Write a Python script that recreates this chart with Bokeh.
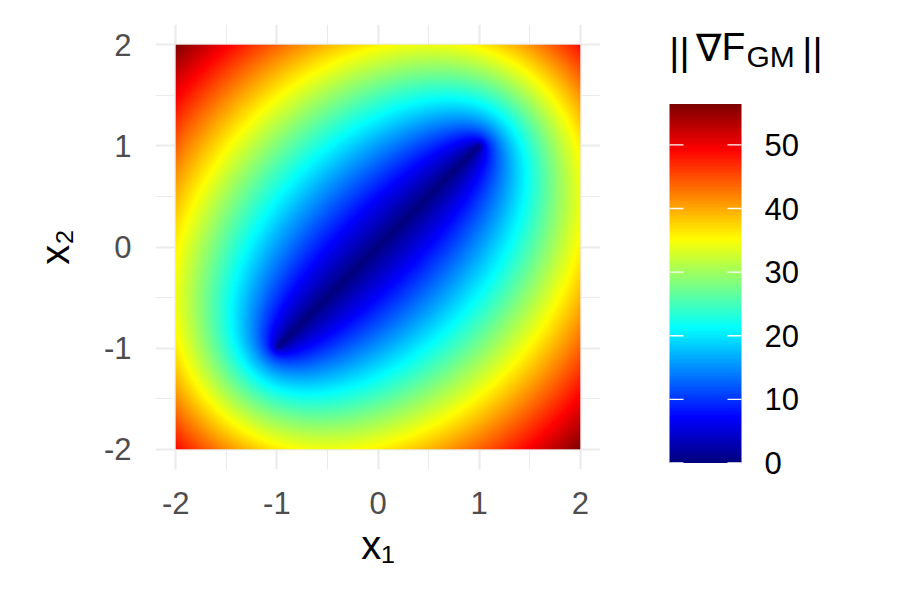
import numpy as np
from bokeh.plotting import figure
from bokeh.layouts import row
from bokeh.models import LinearColorMapper, FixedTicker, Range1d, Label
from bokeh.core.properties import value
from bokeh.embed import file_html
from bokeh.resources import INLINE

# ---------------- data ----------------
x1_limits = [-2.0, 2.0]
x2_limits = [-2.0, 2.0]
# the zero set of the gradient norm is the segment between these two points
anchor_x1 = [-1.0, 1.0]
anchor_x2 = [-1.0, 1.0]
grad_scale = 10.0          # gives the colour-bar maximum of ~56.6 at (-2, 2)
axis_ticks = [-2, -1, 0, 1, 2]
axis_tick_labels = ["-2", "-1", "0", "1", "2"]
axis_minor_ticks = [-1.5, -0.5, 0.5, 1.5]
legend_ticks = [0, 10, 20, 30, 40, 50]
legend_tick_labels = ["0", "10", "20", "30", "40", "50"]
jet_anchors = ["#00007F", "#0000FF", "#007FFF", "#00FFFF", "#7FFF7F",
               "#FFFF00", "#FF7F00", "#FF0000", "#7F0000"]
n_grid = 405

# ---------------- field ----------------
xs = x1_limits[0] + (np.arange(n_grid) + 0.5) * (x1_limits[1] - x1_limits[0]) / n_grid
ys = x2_limits[0] + (np.arange(n_grid) + 0.5) * (x2_limits[1] - x2_limits[0]) / n_grid
X, Y = np.meshgrid(xs, ys)
dxa, dya = X - anchor_x1[0], Y - anchor_x2[0]
dxb, dyb = X - anchor_x1[1], Y - anchor_x2[1]
d1 = np.maximum(np.hypot(dxa, dya), 1e-12)
d2 = np.maximum(np.hypot(dxb, dyb), 1e-12)
gx = dxa / d1 + dxb / d2
gy = dya / d1 + dyb / d2
Z = grad_scale * np.sqrt(d1 * d2) * np.hypot(gx, gy)
zmax = float(Z.max())

# ---------------- palette ----------------
def _rgb(h):
    h = h.lstrip("#")
    return np.array([int(h[i:i + 2], 16) for i in (0, 2, 4)], dtype=float)

anchors_rgb = [_rgb(c) for c in jet_anchors]
palette = []
n_col = 256
for k in range(n_col):
    t = k / (n_col - 1) * (len(anchors_rgb) - 1)
    i = min(int(t), len(anchors_rgb) - 2)
    f = t - i
    c = (1 - f) * anchors_rgb[i] + f * anchors_rgb[i + 1]
    palette.append("#%02x%02x%02x" % tuple(int(round(v)) for v in c))

mapper = LinearColorMapper(palette=palette, low=0, high=zmax)

FONT = "Liberation Sans"
TOP, FRAME = 24, 445

# ---------------- main panel ----------------
span = x1_limits[1] - x1_limits[0]
p = figure(frame_width=FRAME, frame_height=FRAME,
           min_border_left=155, min_border_right=0,
           min_border_top=TOP, min_border_bottom=0,
           x_range=Range1d(x1_limits[0] - 0.05 * span, x1_limits[1] + 0.05 * span),
           y_range=Range1d(x2_limits[0] - 0.05 * span, x2_limits[1] + 0.05 * span),
           output_backend="svg", toolbar_location=None)
p.outline_line_color = None
p.background_fill_color = "white"
p.border_fill_color = "white"

p.image(image=[Z], x=x1_limits[0], y=x2_limits[0],
        dw=x1_limits[1] - x1_limits[0], dh=x2_limits[1] - x2_limits[0],
        color_mapper=mapper)

for axis, grid in ((p.xaxis[0], p.xgrid[0]), (p.yaxis[0], p.ygrid[0])):
    tk = FixedTicker(ticks=axis_ticks, minor_ticks=axis_minor_ticks)
    axis.ticker = tk
    grid.ticker = tk
    axis.major_label_overrides = {t: l for t, l in zip(axis_ticks, axis_tick_labels)}
    axis.axis_line_color = None
    axis.major_tick_line_color = None
    axis.minor_tick_line_color = None
    axis.major_tick_out = 0
    axis.major_tick_in = 0
    axis.major_label_text_font = FONT
    axis.major_label_text_font_size = "31px"
    axis.major_label_text_color = "#4D4D4D"
    axis.axis_label_text_font = FONT
    axis.axis_label_text_font_size = "40px"
    axis.axis_label_text_font_style = "normal"
    axis.axis_label_text_color = "black"
    grid.grid_line_color = "#EBEBEB"
    grid.grid_line_width = 2.2
    grid.minor_grid_line_color = "#EBEBEB"
    grid.minor_grid_line_width = 1.1
p.xaxis.major_label_standoff = 18
p.yaxis.major_label_standoff = 20
p.xaxis.axis_label = "x\u2081"
p.yaxis.axis_label = "x\u2082"
p.xaxis.axis_label_standoff = 6
p.yaxis.axis_label_standoff = 24

# ---------------- colour bar panel ----------------
PANEL_X0 = 600                         # page x of this panel's left edge
FRAME2 = 458                           # frame reaches a little below the main panel
bar_left, bar_width = 669 - PANEL_X0, 72
bar_bottom_px, bar_top_px = 462.5, 103.5   # page pixels of 0 and max
kpx = (bar_bottom_px - bar_top_px) / zmax
frame2_bottom = TOP + FRAME2
y_lo = -(frame2_bottom - bar_bottom_px) / kpx
y_hi = zmax + (bar_top_px - TOP) / kpx

def ydata(page_y):
    return y_lo + (frame2_bottom - page_y) / kpx

p2 = figure(frame_width=300, frame_height=FRAME2,
            min_border_left=0, min_border_right=0,
            min_border_top=TOP, min_border_bottom=0,
            x_range=Range1d(0, 300), y_range=Range1d(y_lo, y_hi),
            x_axis_type=None, y_axis_type=None,
            output_backend="svg", toolbar_location=None)
p2.outline_line_color = None
p2.grid.visible = False
p2.background_fill_color = "white"
p2.border_fill_color = "white"

bar = np.linspace(0, zmax, 359).reshape(-1, 1)
p2.image(image=[bar], x=bar_left, y=0, dw=bar_width, dh=zmax, color_mapper=mapper)
tick_len = 14
n_t = len(legend_ticks)
p2.segment(x0=[bar_left] * n_t, x1=[bar_left + tick_len] * n_t,
           y0=legend_ticks, y1=legend_ticks, line_color="white", line_width=1.3)
p2.segment(x0=[bar_left + bar_width - tick_len] * n_t, x1=[bar_left + bar_width] * n_t,
           y0=legend_ticks, y1=legend_ticks, line_color="white", line_width=1.3)
p2.text(x=[bar_left + bar_width + 23] * n_t, y=legend_ticks, text=legend_tick_labels,
        text_font=value(FONT), text_font_size="31px", text_color="black",
        text_baseline="middle", text_align="left")

TITLE_SHIFT = -21   # empirical correction of the label baseline placement

def lab(page_x, page_y, text, size, align="left"):
    p2.add_layout(Label(x=page_x - PANEL_X0, y=ydata(page_y + TITLE_SHIFT), text=text,
                        text_font=FONT, text_font_size=size, text_color="black",
                        text_baseline="alphabetic", text_align=align))

# legend title ||∇F_GM||
lab(679, 72, "||", "39px", align="center")
lab(708, 68, "\u2207", "38px", align="center")
lab(721, 66.7, "F", "39px")
lab(746, 76.7, "GM", "30px")
lab(812, 72, "||", "39px", align="center")

layout = row(p, p2)
open("out.html", "w").write(file_html(layout, INLINE))
